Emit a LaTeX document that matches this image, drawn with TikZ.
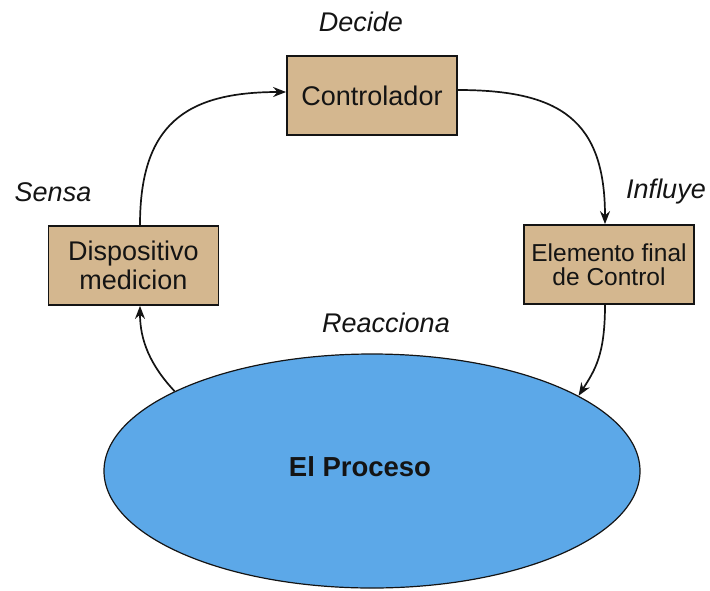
\documentclass[tikz,border=0pt]{standalone}
\usepackage{fontspec}
\setmainfont{Liberation Sans}
\usetikzlibrary{arrows.meta,shapes.geometric}
\definecolor{tan}{RGB}{212,183,143}
\definecolor{proc}{RGB}{92,168,232}
\definecolor{ink}{RGB}{20,20,20}
\tikzset{
  box/.style={draw=ink,line width=1.8pt,fill=tan,minimum width=170pt,minimum height=79pt,inner sep=0pt,align=center,text=ink},
  lab/.style={font=\fontsize{27}{30}\selectfont\itshape,text=ink},
  conn/.style={draw=ink,line width=1.7pt,-{Stealth[length=13pt,width=10pt]}}
}
\begin{document}
\begin{tikzpicture}[x=1pt,y=-1pt]
\useasboundingbox (0,0) rectangle (710,590);
\node[box,font=\fontsize{27}{29}\selectfont] (ctrl) at (372,95.5) {Controlador};
\node[box,font=\fontsize{27}{29}\selectfont] (disp) at (133.5,265.5) {Dispositivo\\medicion};
\node[box,font=\fontsize{24.5}{24}\selectfont] (elem) at (609,264.5) {Elemento final\\de Control};
\node[ellipse,draw=ink,line width=1.2pt,fill=proc,minimum width=536pt,minimum height=234pt,inner sep=0pt] (proc) at (372,471) {};
\node[font=\fontsize{27.5}{30}\selectfont\bfseries,text=ink] (proctext) at (360,467) {El Proceso};
\node[lab] (decide) at (361,22) {Decide};
\node[lab] (sensa) at (53,192) {Sensa};
\node[lab] (influye) at (666,192) {Influye};
\node[lab] (reacc) at (386,323) {Reacciona};
\draw[conn] (disp.north -| 140,0) .. controls (140,125) and (185,92) .. (ctrl.west |- 0,92);
\draw[conn] (ctrl.east |- 0,90) .. controls (560,90) and (605,120) .. (elem.north -| 605,0);
\draw[conn] (elem.south -| 605,0) .. controls (605,355) and (595,370) .. (proc.20.5);
\draw[conn] (proc.158.4) .. controls (150,365) and (140,340) .. (disp.south -| 140,0);
\end{tikzpicture}
\end{document}
